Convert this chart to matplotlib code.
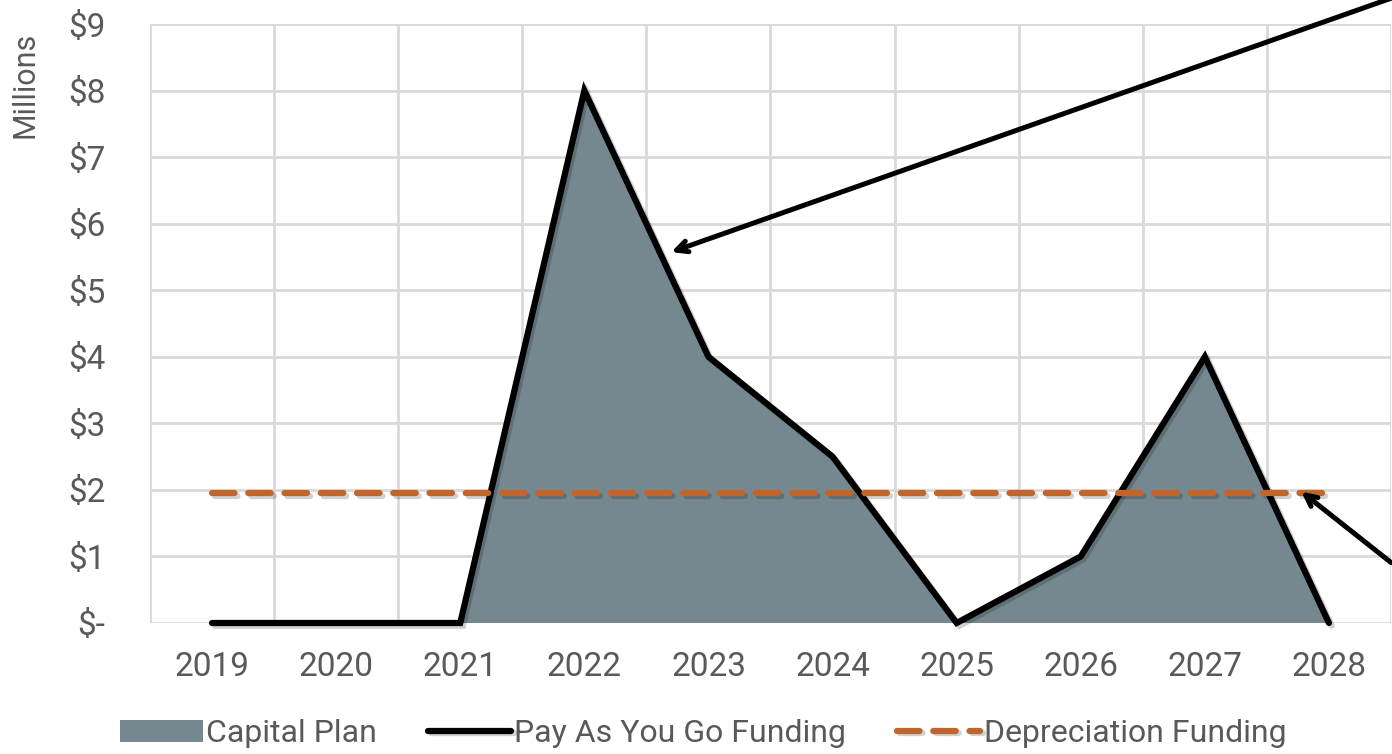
"""
Capital plan vs funding chart
"""

import matplotlib
matplotlib.use("Agg")
import matplotlib.pyplot as plt
import matplotlib.patheffects as pe
from matplotlib.ticker import FixedLocator, FuncFormatter

# ===============================
# DATA
# ===============================

years = ["2019", "2020", "2021", "2022", "2023", "2024", "2025", "2026", "2027", "2028"]
capital_plan = [0, 0, 0, 8, 4, 2.5, 0, 1, 4, 0]
pay_as_you_go = [0, 0, 0, 8, 4, 2.5, 0, 1, 4, 0]
depreciation = [1.95] * 10

# annotation arrows (tail, tip) in data units
arrow_1 = ((9.52, 9.4), (3.68, 5.56))
arrow_2 = ((9.52, 0.88), (8.76, 2.0))

TEXT = "#595959"
GRID = "#d9d9d9"
FILL = "#758890"
ORANGE = "#c0652b"

plt.rcParams["font.family"] = ["Roboto", "Liberation Sans", "DejaVu Sans"]

# ===============================
# PLOT
# ===============================

fig = plt.figure(figsize=(13.92, 7.54), dpi=100)
ax = fig.add_axes([150 / 1392, 1 - 623 / 754, 1241 / 1392, 599 / 754])

x = list(range(len(years)))
shadow_patch = [pe.SimplePatchShadow(offset=(2, -2), alpha=0.25), pe.Normal()]
shadow_line = [pe.SimpleLineShadow(offset=(2, -2), alpha=0.18), pe.Normal()]

ax.fill_between(x, capital_plan, color=FILL, label="Capital Plan",
                path_effects=shadow_patch, zorder=2, linewidth=0)
ax.plot(x, pay_as_you_go, color="black", lw=4.5, solid_capstyle="round",
        solid_joinstyle="miter", label="Pay As You Go Funding",
        path_effects=shadow_line, zorder=3, clip_on=False)
ax.plot(x, depreciation, color=ORANGE, lw=4.5, dashes=(3.6, 2.2),
        dash_capstyle="round", label="Depreciation Funding",
        path_effects=shadow_line, zorder=4, clip_on=False)

for tail, tip in (arrow_1, arrow_2):
    ax.annotate("", xy=tip, xytext=tail, xycoords="data", textcoords="data",
                arrowprops=dict(arrowstyle="->,head_length=0.8,head_width=0.4",
                                color="black", lw=3.6),
                annotation_clip=False, zorder=5)

ax.set_xlim(-0.5, len(years) - 0.5)
ax.set_ylim(0, 9)
ax.set_xticks(x)
ax.set_xticklabels(years)
ax.xaxis.set_minor_locator(FixedLocator([i - 0.5 for i in range(len(years) + 1)]))
ax.set_yticks(range(10))
ax.yaxis.set_major_formatter(FuncFormatter(lambda v, p: "$-" if v == 0 else f"${int(v)}"))

ax.grid(which="minor", axis="x", color=GRID, lw=2)
ax.grid(which="major", axis="y", color=GRID, lw=2)
ax.set_axisbelow(True)
for s in ax.spines.values():
    s.set_visible(False)
ax.tick_params(axis="both", which="both", length=0, labelsize=24, labelcolor=TEXT)
ax.tick_params(axis="x", pad=20)
ax.tick_params(axis="y", pad=32)

fig.text(25 / 1392, 1 - 85 / 754, "Millions", rotation=90, ha="center", va="center",
         fontsize=22, color=TEXT)

fig.legend(loc="lower center", bbox_to_anchor=(0.505, -0.03), ncol=3, frameon=False,
           fontsize=23, labelcolor=TEXT, handlelength=2.6, handletextpad=0.1,
           columnspacing=1.6)

plt.savefig("out.png", dpi=100)
